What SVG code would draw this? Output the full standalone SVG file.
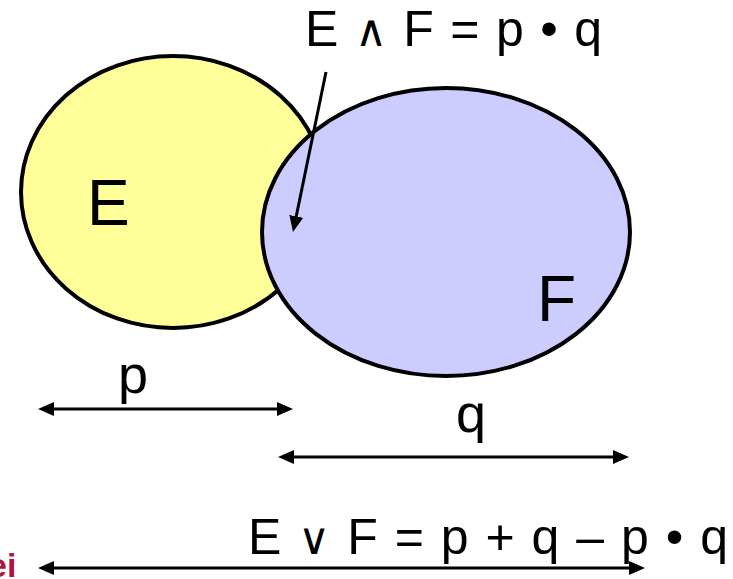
<svg xmlns="http://www.w3.org/2000/svg" width="733" height="579" viewBox="0 0 733 579">
<style>
.t{font-family:"Liberation Sans",Arial,sans-serif;fill:#000}
.op{font-family:"DejaVu Sans",sans-serif;font-size:44px;font-weight:200}
.ln{stroke:#000;stroke-width:3;fill:none}
.el{stroke:#000;stroke-width:4}
</style>
<defs>
<marker id="ah" viewBox="0 0 16 14" refX="8" refY="7" markerWidth="16" markerHeight="14" markerUnits="userSpaceOnUse" orient="auto-start-reverse">
<path d="M0,0 L16,7 L0,14 z" fill="#000"/>
</marker>
</defs>
<rect width="733" height="579" fill="#fff"/>
<g id="E">
<ellipse class="el" cx="173" cy="192" rx="152" ry="136" fill="#FFFF99"/>
<text class="t" x="87" y="225" font-size="64">E</text>
</g>
<g id="F">
<ellipse class="el" cx="446" cy="232" rx="184" ry="144" fill="#CCCCFF"/>
<text class="t" x="537" y="321" font-size="64">F</text>
</g>
<g id="connectors">
<line class="ln" x1="326" y1="72" x2="294.6" y2="224.2" marker-end="url(#ah)"/>
<line class="ln" x1="46" y1="409" x2="285" y2="409" marker-start="url(#ah)" marker-end="url(#ah)"/>
<line class="ln" x1="286" y1="457" x2="621" y2="457" marker-start="url(#ah)" marker-end="url(#ah)"/>
<line class="ln" x1="46" y1="568" x2="637" y2="568" marker-start="url(#ah)" marker-end="url(#ah)"/>
</g>
<g id="labels">
<text class="t" x="305" y="46" font-size="50" textLength="297" lengthAdjust="spacing">E <tspan class="op">∧</tspan> F = p • q</text>
<text class="t" x="118" y="393" font-size="54">p</text>
<text class="t" x="456" y="432" font-size="54">q</text>
<text class="t" x="248" y="554" font-size="50" textLength="480" lengthAdjust="spacing">E <tspan class="op">∨</tspan> F = p + q – p • q</text>
<text x="-12" y="577" font-size="34" font-weight="bold" font-family="Liberation Sans, Arial, sans-serif" fill="#B0143C">ei</text>
</g>
</svg>
